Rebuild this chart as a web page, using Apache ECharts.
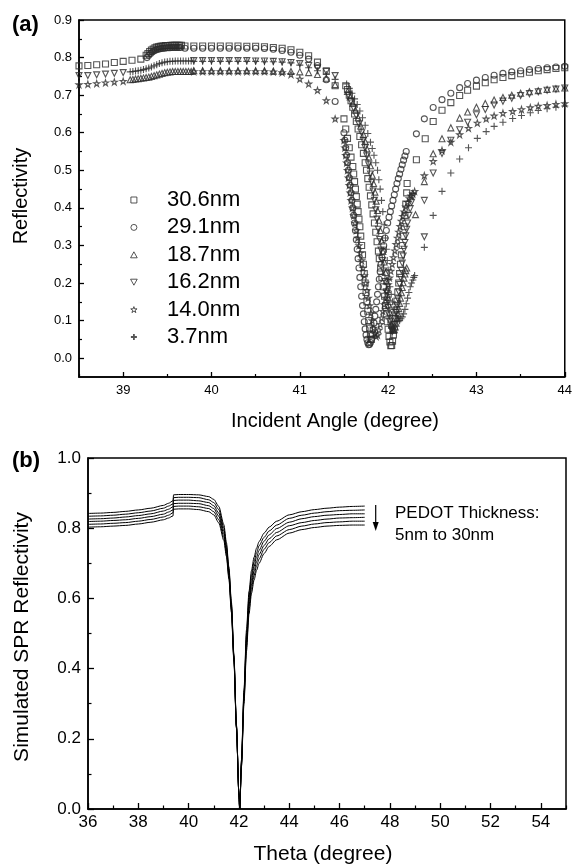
<!DOCTYPE html>
<html><head><meta charset="utf-8">
<script src="https://cdn.jsdelivr.net/npm/echarts@6/dist/echarts.min.js"></script>
<style>html,body{margin:0;padding:0;background:#fff}#c{width:575px;height:864px}</style>
</head><body><div id="c"></div>
<script>
// ---------- Panel (a): measured reflectivity, [angle, reflectivity] ----------
const sq30_6 = [
 [38.5,0.778],[38.6,0.779],[38.7,0.781],[38.8,0.783],[38.9,0.787],[39.0,0.79],[39.1,0.793],[39.2,0.796],
 [39.26,0.806],[39.28,0.811],[39.30,0.816],[39.32,0.820],[39.34,0.823],[39.36,0.826],[39.38,0.828],[39.40,0.829],[39.42,0.830],[39.44,0.831],[39.46,0.831],[39.48,0.832],[39.50,0.832],[39.52,0.832],[39.54,0.833],[39.56,0.833],[39.58,0.833],[39.60,0.833],[39.62,0.833],[39.64,0.833],[39.66,0.833],
 [39.7,0.831],[39.8,0.831],[39.9,0.831],[40.0,0.831],[40.1,0.831],[40.2,0.831],[40.3,0.831],[40.4,0.83],[40.5,0.83],[40.6,0.829],[40.7,0.827],[40.8,0.825],[40.9,0.821],[41.0,0.814],[41.1,0.805],[41.2,0.788],[41.3,0.765],[41.4,0.725],[41.5,0.637],
 [41.52,0.61],[41.54,0.585],[41.56,0.56],[41.58,0.535],[41.6,0.51],[41.61,0.49],[41.62,0.47],[41.63,0.45],[41.64,0.43],[41.65,0.41],[41.66,0.39],[41.67,0.37],[41.68,0.35],[41.69,0.325],[41.70,0.30],[41.71,0.275],[41.72,0.25],[41.73,0.225],[41.74,0.2],[41.75,0.175],[41.76,0.15],[41.77,0.125],[41.78,0.10],[41.79,0.08],[41.80,0.062],[41.81,0.05],
 [41.52,0.725],[41.54,0.715],[41.56,0.70],[41.58,0.685],[41.60,0.668],[41.62,0.65],[41.64,0.63],[41.66,0.61],[41.68,0.59],[41.70,0.568],[41.72,0.545],[41.74,0.52],[41.755,0.50],[41.77,0.478],[41.785,0.455],[41.80,0.432],[41.815,0.408],[41.83,0.384],[41.845,0.36],[41.86,0.335],[41.875,0.31],[41.89,0.285],[41.90,0.265],[41.915,0.24],[41.93,0.215],[41.945,0.19],[41.96,0.165],[41.97,0.14],[41.98,0.118],[41.99,0.097],[42.0,0.077],[42.01,0.058],[42.02,0.043],[42.03,0.033],
 [42.04,0.034],[42.05,0.045],[42.06,0.062],[42.07,0.083],[42.08,0.105],[42.09,0.128],[42.10,0.152],[42.11,0.176],[42.12,0.20],[42.13,0.225],[42.14,0.25],[42.15,0.275],[42.16,0.30],[42.17,0.325],[42.18,0.35],[42.19,0.38],[42.20,0.41],[42.21,0.44],[42.215,0.465],
 [42.32,0.528],[42.42,0.584],[42.51,0.63],[42.61,0.66],[42.71,0.68],[42.81,0.699],[42.9,0.713],[43.0,0.724],[43.1,0.733],[43.2,0.741],[43.3,0.747],[43.4,0.752],[43.5,0.757],[43.6,0.761],[43.7,0.765],[43.8,0.768],[43.9,0.771],[44.0,0.773]
];
const ci29_1 = [
 [39.27,0.800],[39.29,0.806],[39.31,0.811],[39.33,0.815],[39.35,0.818],[39.37,0.820],[39.39,0.822],[39.41,0.823],[39.43,0.824],[39.45,0.825],[39.47,0.825],[39.49,0.826],[39.51,0.826],[39.53,0.826],[39.55,0.827],[39.57,0.827],[39.59,0.827],[39.61,0.827],[39.63,0.827],[39.65,0.827],
 [39.7,0.825],[39.8,0.825],[39.9,0.825],[40.0,0.825],[40.1,0.825],[40.2,0.825],[40.3,0.825],[40.4,0.825],[40.5,0.825],[40.6,0.824],[40.7,0.822],[40.8,0.819],[40.9,0.814],[41.0,0.806],[41.1,0.796],[41.2,0.779],[41.3,0.741],[41.4,0.683],
 [41.50,0.60],[41.51,0.58],[41.52,0.56],[41.53,0.54],[41.54,0.52],[41.55,0.50],[41.56,0.48],[41.57,0.46],[41.58,0.44],[41.59,0.42],[41.60,0.40],[41.61,0.38],[41.62,0.36],[41.63,0.34],[41.64,0.315],[41.65,0.29],[41.66,0.265],[41.67,0.24],[41.68,0.215],[41.69,0.19],[41.70,0.165],[41.71,0.14],[41.72,0.118],[41.73,0.097],[41.74,0.078],[41.75,0.062],[41.76,0.05],[41.77,0.041],[41.78,0.036],
 [41.79,0.037],[41.80,0.042],[41.81,0.05],[41.82,0.062],[41.83,0.077],[41.84,0.094],[41.85,0.112],[41.86,0.13],[41.87,0.15],[41.88,0.17],[41.89,0.19],[41.90,0.21],[41.91,0.23],[41.92,0.25],[41.93,0.268],[41.94,0.285],[41.95,0.30],[41.965,0.32],[41.98,0.34],[41.995,0.36],[42.01,0.375],[42.025,0.39],[42.04,0.405],[42.055,0.42],[42.07,0.435],[42.085,0.45],[42.10,0.465],[42.115,0.478],[42.13,0.49],[42.145,0.503],[42.16,0.515],[42.175,0.527],[42.19,0.538],[42.205,0.55],
 [42.32,0.597],[42.41,0.637],[42.51,0.667],[42.61,0.688],[42.71,0.705],[42.81,0.72],[42.9,0.731],[43.0,0.74],[43.1,0.747],[43.2,0.753],[43.3,0.758],[43.4,0.762],[43.5,0.765],[43.6,0.768],[43.7,0.771],[43.8,0.773],[43.9,0.775],[44.0,0.777]
];
const tu18_7 = [
 [39.08,0.741],[39.11,0.742],[39.14,0.743],[39.17,0.744],[39.2,0.745],[39.23,0.746],[39.26,0.747],[39.29,0.748],[39.32,0.75],[39.35,0.752],[39.38,0.754],[39.41,0.756],[39.44,0.758],[39.47,0.76],[39.5,0.761],[39.53,0.762],[39.56,0.763],[39.59,0.763],[39.62,0.763],[39.65,0.763],[39.68,0.763],[39.71,0.763],[39.74,0.763],[39.77,0.763],
 [39.8,0.765],[39.9,0.765],[40.0,0.765],[40.1,0.765],[40.2,0.765],[40.3,0.765],[40.4,0.765],[40.5,0.765],[40.6,0.765],[40.7,0.764],[40.8,0.764],[40.9,0.763],[41.0,0.762],[41.1,0.76],[41.2,0.755],[41.3,0.745],[41.4,0.728],
 [41.54,0.71],[41.57,0.695],[41.60,0.678],[41.63,0.66],[41.66,0.64],[41.69,0.618],[41.72,0.595],[41.74,0.577],[41.76,0.557],[41.78,0.535],[41.80,0.512],[41.82,0.487],[41.835,0.465],[41.85,0.442],[41.865,0.418],[41.88,0.393],[41.895,0.367],[41.91,0.34],[41.925,0.312],[41.94,0.284],[41.955,0.256],[41.97,0.228],[41.98,0.205],[41.99,0.183],[42.0,0.162],[42.01,0.142],[42.02,0.122],[42.03,0.104],[42.04,0.088],[42.05,0.078],[42.06,0.074],
 [42.07,0.076],[42.08,0.083],[42.09,0.093],[42.10,0.105],[42.11,0.118],[42.12,0.132],[42.13,0.146],[42.14,0.16],[42.15,0.174],[42.16,0.188],[42.17,0.201],[42.18,0.213],[42.19,0.224],[42.20,0.233],[42.21,0.24],
 [42.31,0.382],[42.41,0.47],[42.51,0.544],[42.61,0.584],[42.71,0.613],[42.81,0.639],[42.9,0.655],[43.0,0.668],[43.1,0.678],[43.2,0.687],[43.3,0.694],[43.4,0.70],[43.5,0.705],[43.6,0.709],[43.7,0.712],[43.8,0.715],[43.9,0.717],[44.0,0.719]
];
const td16_2 = [
 [38.5,0.752],[38.6,0.752],[38.7,0.754],[38.8,0.756],[38.9,0.758],[39.0,0.76],
 [39.8,0.792],[39.9,0.792],[40.0,0.792],[40.1,0.792],[40.2,0.792],[40.3,0.792],[40.4,0.792],[40.5,0.791],[40.6,0.791],[40.7,0.79],[40.8,0.789],[40.9,0.787],[41.0,0.784],[41.1,0.779],[41.2,0.772],[41.3,0.763],[41.4,0.752],
 [41.55,0.70],[41.58,0.683],[41.61,0.665],[41.64,0.645],[41.67,0.623],[41.70,0.60],[41.72,0.58],[41.74,0.56],[41.76,0.538],[41.78,0.515],[41.80,0.49],[41.815,0.468],[41.83,0.445],[41.845,0.42],[41.86,0.395],[41.875,0.37],[41.89,0.343],[41.905,0.316],[41.92,0.288],[41.935,0.26],[41.95,0.232],[41.965,0.204],[41.98,0.177],[41.99,0.155],[42.0,0.135],[42.01,0.115],[42.02,0.097],[42.03,0.083],[42.04,0.074],[42.05,0.072],
 [42.06,0.078],[42.07,0.09],[42.08,0.105],[42.09,0.122],[42.10,0.14],[42.11,0.158],[42.12,0.177],[42.13,0.196],[42.14,0.215],[42.15,0.234],[42.16,0.253],[42.17,0.272],[42.18,0.29],[42.19,0.308],[42.20,0.326],[42.21,0.343],[42.22,0.36],[42.235,0.38],[42.25,0.398],[42.265,0.415],[42.28,0.43],
 [42.41,0.323],[42.41,0.42],[42.51,0.493],[42.61,0.545],[42.71,0.58],[42.81,0.608],[42.9,0.628],[43.0,0.648],[43.1,0.662],[43.2,0.674],[43.3,0.684],[43.4,0.692],[43.5,0.699],[43.6,0.704],[43.7,0.709],[43.8,0.713],[43.9,0.716],[44.0,0.719]
];
const st14_0 = [
 [38.5,0.728],[38.6,0.729],[38.7,0.731],[38.8,0.733],[38.9,0.735],[39.0,0.737],
 [39.8,0.763],[39.9,0.763],[40.0,0.763],[40.1,0.763],[40.2,0.763],[40.3,0.763],[40.4,0.763],[40.5,0.763],[40.6,0.763],[40.7,0.762],[40.8,0.76],[40.9,0.755],[41.0,0.743],[41.1,0.73],[41.2,0.713],[41.3,0.686],[41.4,0.637],
 [41.50,0.58],[41.51,0.56],[41.52,0.54],[41.53,0.52],[41.54,0.50],[41.55,0.48],[41.56,0.46],[41.57,0.44],[41.58,0.42],[41.595,0.40],[41.61,0.38],[41.625,0.36],[41.64,0.34],[41.655,0.32],[41.67,0.30],[41.685,0.28],[41.70,0.26],[41.715,0.24],[41.73,0.22],[41.745,0.20],[41.76,0.18],[41.775,0.16],[41.79,0.14],[41.805,0.12],[41.82,0.10],[41.835,0.08],[41.85,0.065],[41.865,0.058],
 [41.88,0.062],[41.895,0.075],[41.91,0.09],[41.925,0.107],[41.94,0.125],[41.955,0.143],[41.97,0.16],[41.985,0.178],[42.0,0.196],[42.015,0.214],[42.03,0.232],[42.045,0.25],[42.06,0.268],[42.075,0.286],[42.09,0.303],[42.105,0.32],[42.12,0.336],[42.135,0.351],[42.15,0.365],[42.165,0.378],[42.18,0.39],[42.2,0.403],[42.22,0.415],[42.24,0.425],[42.26,0.432],[42.28,0.438],[42.30,0.444],
 [42.41,0.486],[42.51,0.524],[42.61,0.553],[42.71,0.575],[42.81,0.595],[42.91,0.612],[43.01,0.626],[43.11,0.637],[43.2,0.645],[43.3,0.652],[43.41,0.657],[43.51,0.662],[43.61,0.667],[43.7,0.671],[43.8,0.673],[43.9,0.676],[44.0,0.678]
];
const pl3_7 = [
 [39.08,0.762],[39.11,0.763],[39.14,0.764],[39.17,0.765],[39.2,0.766],[39.23,0.768],[39.26,0.77],[39.29,0.772],[39.32,0.775],[39.35,0.778],[39.38,0.781],[39.41,0.784],[39.44,0.786],[39.47,0.788],[39.5,0.789],[39.53,0.79],[39.56,0.79],[39.59,0.791],[39.62,0.791],[39.65,0.791],[39.68,0.791],[39.71,0.791],[39.74,0.791],[39.77,0.791],
 [39.8,0.79],[39.9,0.79],[40.0,0.79],[40.1,0.79],[40.2,0.79],[40.3,0.79],[40.4,0.79],[40.5,0.79],[40.6,0.789],[40.7,0.789],[40.8,0.788],[40.9,0.786],[41.0,0.78],[41.1,0.773],[41.2,0.765],[41.3,0.755],[41.4,0.742],
 [41.53,0.73],[41.56,0.718],[41.59,0.705],[41.62,0.69],[41.65,0.675],[41.68,0.658],[41.71,0.64],[41.74,0.62],[41.77,0.598],[41.80,0.575],[41.82,0.558],[41.84,0.54],[41.86,0.52],[41.88,0.50],[41.895,0.475],[41.91,0.45],[41.925,0.42],[41.94,0.39],[41.955,0.355],[41.97,0.32],[41.98,0.29],[41.99,0.26],[42.0,0.235],[42.01,0.21],[42.02,0.19],[42.035,0.17],[42.05,0.15],[42.07,0.13],[42.09,0.115],[42.11,0.105],[42.13,0.10],
 [42.145,0.105],[42.16,0.11],[42.175,0.118],[42.19,0.13],[42.205,0.145],[42.22,0.16],[42.235,0.175],[42.25,0.19],[42.265,0.20],[42.28,0.208],[42.29,0.215],[42.30,0.22],
 [42.41,0.295],[42.51,0.38],[42.61,0.444],[42.71,0.493],[42.81,0.53],[42.91,0.56],[43.01,0.585],[43.11,0.603],[43.2,0.617],[43.3,0.628],[43.41,0.638],[43.51,0.646],[43.61,0.653],[43.7,0.659],[43.8,0.664],[43.9,0.668],[44.0,0.671]
];
const legendNames = ['30.6nm','29.1nm','18.7nm','16.2nm','14.0nm','3.7nm'];
const topXTicks = [39,40,41,42,43,44];
const topXMinor = [38.5,39.5,40.5,41.5,42.5,43.5];
const topYTicks = [0,0.1,0.2,0.3,0.4,0.5,0.6,0.7,0.8,0.9];
const topYMinor = [0.05,0.15,0.25,0.35,0.45,0.55,0.65,0.75,0.85];

// ---------- Panel (b): simulated curves ----------
const thetaX = [36,36.5,37,37.5,38,38.5,39,39.2,39.38,39.4,39.6,40,40.4,40.8,41.0,41.2,41.4,41.5,41.6,41.7,41.8,41.9,42.0,42.03,42.1,42.2,42.3,42.4,42.5,42.6,42.7,42.8,43.0,43.2,43.5,44,44.5,45,45.5,46,46.5,47];
const sim5nm  = [0.842,0.843,0.845,0.848,0.852,0.857,0.865,0.871,0.878,0.895,0.896,0.896,0.895,0.890,0.882,0.862,0.810,0.760,0.690,0.590,0.440,0.240,0.04,0.0,0.140,0.340,0.510,0.620,0.680,0.717,0.743,0.762,0.786,0.803,0.820,0.838,0.847,0.853,0.857,0.860,0.862,0.863];
const sim10nm = [0.834,0.835,0.837,0.840,0.844,0.849,0.857,0.863,0.869,0.887,0.888,0.888,0.887,0.881,0.873,0.853,0.801,0.752,0.683,0.584,0.436,0.238,0.04,0.0,0.136,0.332,0.498,0.607,0.667,0.704,0.730,0.750,0.774,0.792,0.809,0.828,0.837,0.843,0.847,0.850,0.851,0.852];
const sim15nm = [0.826,0.827,0.829,0.832,0.836,0.841,0.849,0.854,0.861,0.879,0.880,0.880,0.878,0.873,0.864,0.843,0.792,0.744,0.676,0.578,0.432,0.236,0.04,0.0,0.132,0.324,0.486,0.594,0.654,0.691,0.718,0.737,0.763,0.781,0.799,0.817,0.827,0.833,0.837,0.839,0.841,0.841];
const sim20nm = [0.819,0.820,0.822,0.824,0.828,0.833,0.840,0.846,0.852,0.870,0.871,0.871,0.870,0.864,0.856,0.834,0.783,0.736,0.669,0.572,0.428,0.234,0.04,0.0,0.128,0.316,0.474,0.581,0.641,0.678,0.705,0.725,0.751,0.770,0.788,0.807,0.816,0.822,0.826,0.829,0.830,0.831];
const sim25nm = [0.811,0.812,0.814,0.816,0.820,0.825,0.832,0.837,0.844,0.862,0.863,0.863,0.861,0.856,0.847,0.824,0.774,0.728,0.662,0.566,0.424,0.232,0.04,0.0,0.124,0.308,0.462,0.568,0.628,0.665,0.693,0.712,0.740,0.759,0.778,0.796,0.806,0.812,0.816,0.818,0.820,0.820];
const sim30nm = [0.803,0.804,0.806,0.808,0.812,0.817,0.824,0.829,0.835,0.854,0.855,0.855,0.853,0.847,0.838,0.815,0.765,0.720,0.655,0.560,0.420,0.230,0.04,0.0,0.120,0.300,0.450,0.555,0.615,0.652,0.680,0.700,0.728,0.748,0.767,0.786,0.796,0.802,0.806,0.808,0.809,0.809];
const botXTicks = [36,38,40,42,44,46,48,50,52,54];
const botXMinor = [37,39,41,43,45,47,49,51,53,55];
const botYTicks = [0,0.2,0.4,0.6,0.8,1.0];
const botYMinor = [0.1,0.3,0.5,0.7,0.9];

const FONT = "'Liberation Sans', Arial, sans-serif";
const INK = '#000';
const MK = '#2a2a2a';
const SYM = {
  rect: 'path://M0,0 L10,0 L10,10 L0,10 Z',
  circle: 'circle',
  tri: 'path://M5,0 L10,9 L0,9 Z',
  dtri: 'path://M0,0 L10,0 L5,9 Z',
  star: 'path://M5,0 L6.2,3.6 L10,3.6 L6.9,5.8 L8.1,9.5 L5,7.2 L1.9,9.5 L3.1,5.8 L0,3.6 L3.8,3.6 Z',
  plus: 'path://M0,5 L10,5 M5,0 L5,10'
};
const topSeriesDef = [
  {name: legendNames[0], data: sq30_6, sym: SYM.rect, size: 6},
  {name: legendNames[1], data: ci29_1, sym: SYM.circle, size: 6},
  {name: legendNames[2], data: tu18_7, sym: SYM.tri, size: 6},
  {name: legendNames[3], data: td16_2, sym: SYM.dtri, size: 6},
  {name: legendNames[4], data: st14_0, sym: SYM.star, size: 6},
  {name: legendNames[5], data: pl3_7, sym: SYM.plus, size: 7}
];

function majorAxis(grid, min, max, ticks, len, fs, margin, fmt, pos) {
  return {
    type: 'value', gridIndex: grid, min: min, max: max, position: pos,
    axisLine: {show: true, onZero: false, lineStyle: {color: INK, width: 1.5}},
    axisTick: {show: true, inside: true, length: len, customValues: ticks, lineStyle: {color: INK, width: 1.3}},
    axisLabel: {show: true, customValues: ticks, fontFamily: FONT, fontSize: fs, color: INK, margin: margin, formatter: fmt},
    splitLine: {show: false}
  };
}
function minorAxis(grid, min, max, ticks, len, pos) {
  return {
    type: 'value', gridIndex: grid, min: min, max: max, position: pos,
    axisLine: {show: false, onZero: false},
    axisTick: {show: true, inside: true, length: len, customValues: ticks, lineStyle: {color: INK, width: 1.2}},
    axisLabel: {show: false},
    splitLine: {show: false}
  };
}

const chart = echarts.init(document.getElementById('c'), null, {renderer: 'canvas'});
const series = [];
topSeriesDef.forEach(function (d) {
  series.push({
    type: 'scatter', name: d.name, xAxisIndex: 0, yAxisIndex: 0,
    data: d.data, symbol: d.sym, symbolSize: d.size, clip: true,
    itemStyle: {color: 'rgba(0,0,0,0)', borderColor: MK, borderWidth: 1.1},
    emphasis: {disabled: true}
  });
});
[sim5nm, sim10nm, sim15nm, sim20nm, sim25nm, sim30nm].forEach(function (arr, i) {
  series.push({
    type: 'line', name: 'sim' + i, xAxisIndex: 2, yAxisIndex: 2,
    data: thetaX.map(function (x, j) { return [x, arr[j]]; }),
    showSymbol: false, smooth: 0.25, smoothMonotone: 'x',
    lineStyle: {color: INK, width: 1}, emphasis: {disabled: true}
  });
});

const legendData = topSeriesDef.map(function (d) {
  return {name: d.name, icon: d.sym,
    itemStyle: {color: 'rgba(0,0,0,0)', borderColor: MK, borderWidth: d.sym === SYM.plus ? 1.8 : 1}};
});

chart.setOption({
  animation: false,
  backgroundColor: '#fff',
  grid: [
    {left: 79, top: 20, right: 7, bottom: 487, show: true, borderColor: INK, borderWidth: 1.5, backgroundColor: 'transparent'},
    {left: 88, top: 458, right: 9, bottom: 55, show: true, borderColor: INK, borderWidth: 1.5, backgroundColor: 'transparent'}
  ],
  xAxis: [
    majorAxis(0, 38.5, 44, topXTicks, 5, 13, 7, function (v) { return String(v); }, 'bottom'),
    minorAxis(0, 38.5, 44, topXMinor, 3, 'bottom'),
    majorAxis(1, 36, 55, botXTicks, 6, 17, 5, function (v) { return String(v); }, 'bottom'),
    minorAxis(1, 36, 55, botXMinor, 3.5, 'bottom')
  ],
  yAxis: [
    majorAxis(0, -0.05, 0.9, topYTicks, 5, 13, 7, function (v) { return v.toFixed(1); }, 'left'),
    minorAxis(0, -0.05, 0.9, topYMinor, 3, 'left'),
    majorAxis(1, 0, 1, botYTicks, 6, 17, 7, function (v) { return v.toFixed(1); }, 'left'),
    minorAxis(1, 0, 1, botYMinor, 3.5, 'left')
  ],
  legend: {
    show: true, orient: 'vertical', left: 130, top: 189, padding: 0,
    itemWidth: 56, itemHeight: 6, itemGap: 5.4, symbolKeepAspect: true,
    data: legendData,
    textStyle: {fontFamily: FONT, fontSize: 22, color: INK},
    selectedMode: false
  },
  series: series,
  graphic: [
    {type: 'text', left: 12, top: 14, style: {text: '(a)', font: 'bold 22px ' + FONT, fill: INK}},
    {type: 'text', left: 12, top: 450, style: {text: '(b)', font: 'bold 22px ' + FONT, fill: INK}},
    {type: 'text', x: 21, y: 196, rotation: Math.PI / 2, style: {text: 'Reflectivity', font: '20px ' + FONT, fill: INK, align: 'center', verticalAlign: 'middle'}},
    {type: 'text', x: 335, y: 421, style: {text: 'Incident Angle (degree)', font: '20px ' + FONT, fill: INK, align: 'center', verticalAlign: 'middle'}},
    {type: 'text', x: 22, y: 637, rotation: Math.PI / 2, style: {text: 'Simulated SPR Reflectivity', font: '21px ' + FONT, fill: INK, align: 'center', verticalAlign: 'middle'}},
    {type: 'text', x: 323, y: 854, style: {text: 'Theta (degree)', font: '21px ' + FONT, fill: INK, align: 'center', verticalAlign: 'middle'}},
    {type: 'text', x: 395, y: 513, style: {text: 'PEDOT Thickness:', font: '17px ' + FONT, fill: INK, align: 'left', verticalAlign: 'middle'}},
    {type: 'text', x: 395, y: 535, style: {text: '5nm to 30nm', font: '17px ' + FONT, fill: INK, align: 'left', verticalAlign: 'middle'}},
    {type: 'line', shape: {x1: 375.7, y1: 505, x2: 375.7, y2: 524}, style: {stroke: INK, lineWidth: 1.2}},
    {type: 'polygon', shape: {points: [[372.7, 522], [378.7, 522], [375.7, 531]]}, style: {fill: INK}}
  ]
});
</script></body></html>
